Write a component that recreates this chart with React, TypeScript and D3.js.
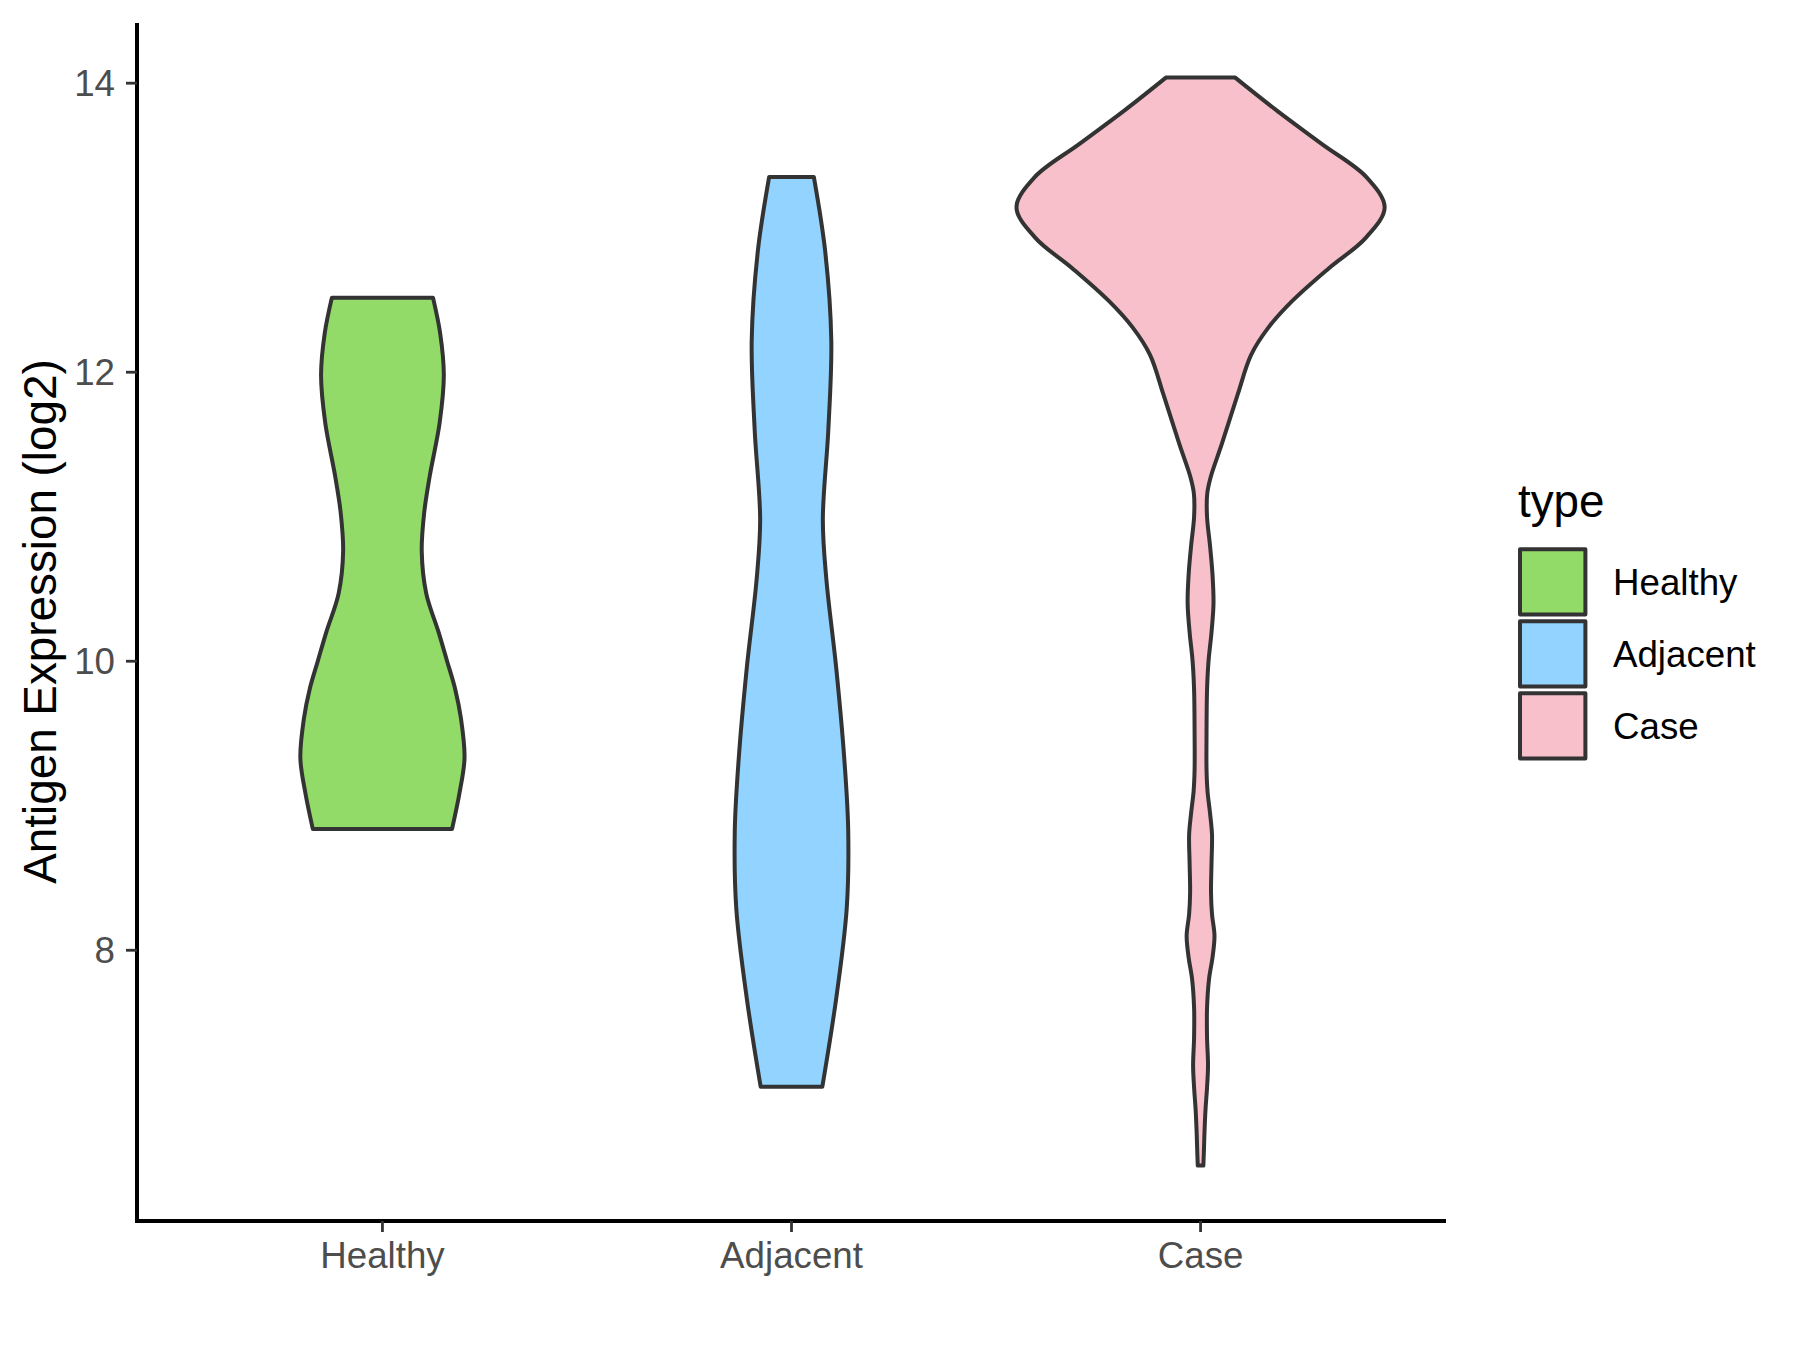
import React from "react";
import * as d3 from "d3";

const categories = ["Healthy", "Adjacent", "Case"];
const fills = ["#93DB69", "#93D3FF", "#F8C0CB"];

// violin outlines: expression values (log2) and relative density (half-width units)
const healthyVals = [8.84, 9.09, 9.33, 9.6, 9.81, 10.0, 10.2, 10.47, 10.76, 11.03, 11.28, 11.65, 11.98, 12.27, 12.516];
const healthyDens = [70, 77.5, 82.5, 79, 73, 65, 56.5, 44, 39.5, 42, 47.5, 57.5, 61.7, 58, 50.8];

const adjacentVals = [7.056, 7.67, 8.29, 8.83, 9.33, 9.95, 10.57, 10.98, 11.6, 12.22, 12.84, 13.35];
const adjacentDens = [31, 45, 55.5, 57, 53, 45, 35, 31.5, 37, 40, 33.8, 22.5];

const caseVals = [6.51, 6.6, 6.75, 6.9, 7.05, 7.2, 7.4, 7.6, 7.8, 7.95, 8.1, 8.25, 8.4, 8.6, 8.8, 8.95, 9.1, 9.25, 9.5, 9.8, 10.0, 10.2, 10.4, 10.6, 10.8, 11.0, 11.16, 11.27, 11.5, 11.85, 12.12, 12.31, 12.49, 12.72, 12.93, 13.14, 13.35, 13.58, 13.81, 14.04];
const caseDens = [2.8, 3.3, 4, 5, 6.5, 7.5, 6.5, 6.5, 8.5, 12, 14, 11.5, 10.5, 11, 11.5, 9.5, 7, 6, 6, 6.5, 8, 11, 13, 12, 9.5, 6.5, 6.7, 10, 21.2, 37.5, 50.8, 68.3, 91.7, 129, 166, 185, 166.7, 121.7, 76.7, 34.5];

const yTicks = [8, 10, 12, 14];

const seriesVals = [healthyVals, adjacentVals, caseVals];
const seriesDens = [healthyDens, adjacentDens, caseDens];

const W = 1800;
const H = 1350;
const left = 137;
const right = 1446;
const top = 23;
const bottom = 1220;
const FONT = "'Liberation Sans', Arial, Helvetica, sans-serif";

export default function App() {
  const allVals = seriesVals.flat();
  const vmin = d3.min(allVals) as number;
  const vmax = d3.max(allVals) as number;
  const pad = (vmax - vmin) * 0.05;
  const y = d3.scaleLinear().domain([vmin - pad, vmax + pad]).range([bottom, top]);
  const x = d3.scalePoint<string>().domain(categories).range([left, right]).padding(0.6);
  const step = x.step();
  const maxDens = d3.max(seriesDens.flat()) as number;
  const wScale = d3.scaleLinear().domain([0, maxDens]).range([0, 0.45 * step]);

  const line = d3
    .line<[number, number]>()
    .x((d) => d[0])
    .y((d) => d[1])
    .curve(d3.curveCatmullRom.alpha(0.5));

  const paths = categories.map((c, i) => {
    const cx = x(c) as number;
    const vals = seriesVals[i];
    const dens = seriesDens[i];
    const idx = vals.map((_, k) => k);
    const rightPts: [number, number][] = idx
      .slice()
      .reverse()
      .map((k) => [cx + wScale(dens[k]), y(vals[k])]);
    const leftPts: [number, number][] = idx.map((k) => [cx - wScale(dens[k]), y(vals[k])]);
    const r = line(rightPts) as string;
    const l = (line(leftPts) as string).replace(/^M/, "L");
    return r + l + "Z";
  });

  return (
    <svg
      width={W}
      height={H}
      style={{ position: "absolute", left: 0, top: 0, background: "#fff" }}
      fontFamily={FONT}
    >
      <rect x={0} y={0} width={W} height={H} fill="#fff" />
      {paths.map((p, i) => (
        <path key={categories[i]} d={p} fill={fills[i]} stroke="#333333" strokeWidth={4} strokeLinejoin="round" />
      ))}

      {/* y axis */}
      <line x1={left} x2={left} y1={top} y2={bottom + 3} stroke="#000" strokeWidth={4} />
      {yTicks.map((t) => (
        <g key={t}>
          <line x1={left - 11} x2={left} y1={y(t)} y2={y(t)} stroke="#333333" strokeWidth={2.8} />
          <text x={left - 22} y={y(t) + 13} textAnchor="end" fontSize={36.7} fill="#4D4D4D">
            {t}
          </text>
        </g>
      ))}

      {/* x axis */}
      <line x1={left - 2} x2={right} y1={bottom + 1} y2={bottom + 1} stroke="#000" strokeWidth={4} />
      {categories.map((c) => (
        <g key={c}>
          <line x1={x(c)} x2={x(c)} y1={bottom + 1} y2={bottom + 12} stroke="#333333" strokeWidth={2.8} />
          <text x={x(c)} y={1268} textAnchor="middle" fontSize={36.7} fill="#4D4D4D">
            {c}
          </text>
        </g>
      ))}

      {/* y title */}
      <text
        transform={`translate(56, ${(top + bottom) / 2}) rotate(-90)`}
        textAnchor="middle"
        fontSize={45.8}
        fill="#000"
      >
        Antigen Expression (log2)
      </text>

      {/* legend */}
      <text x={1518} y={517} fontSize={45.8} fill="#000">
        type
      </text>
      {categories.map((c, i) => (
        <g key={c}>
          <rect
            x={1520}
            y={549.2 + 72 * i}
            width={65.4}
            height={65.4}
            fill={fills[i]}
            stroke="#333333"
            strokeWidth={4}
            strokeLinejoin="round"
          />
          <text x={1613} y={595 + 72 * i} fontSize={36.7} fill="#000">
            {c}
          </text>
        </g>
      ))}
    </svg>
  );
}
